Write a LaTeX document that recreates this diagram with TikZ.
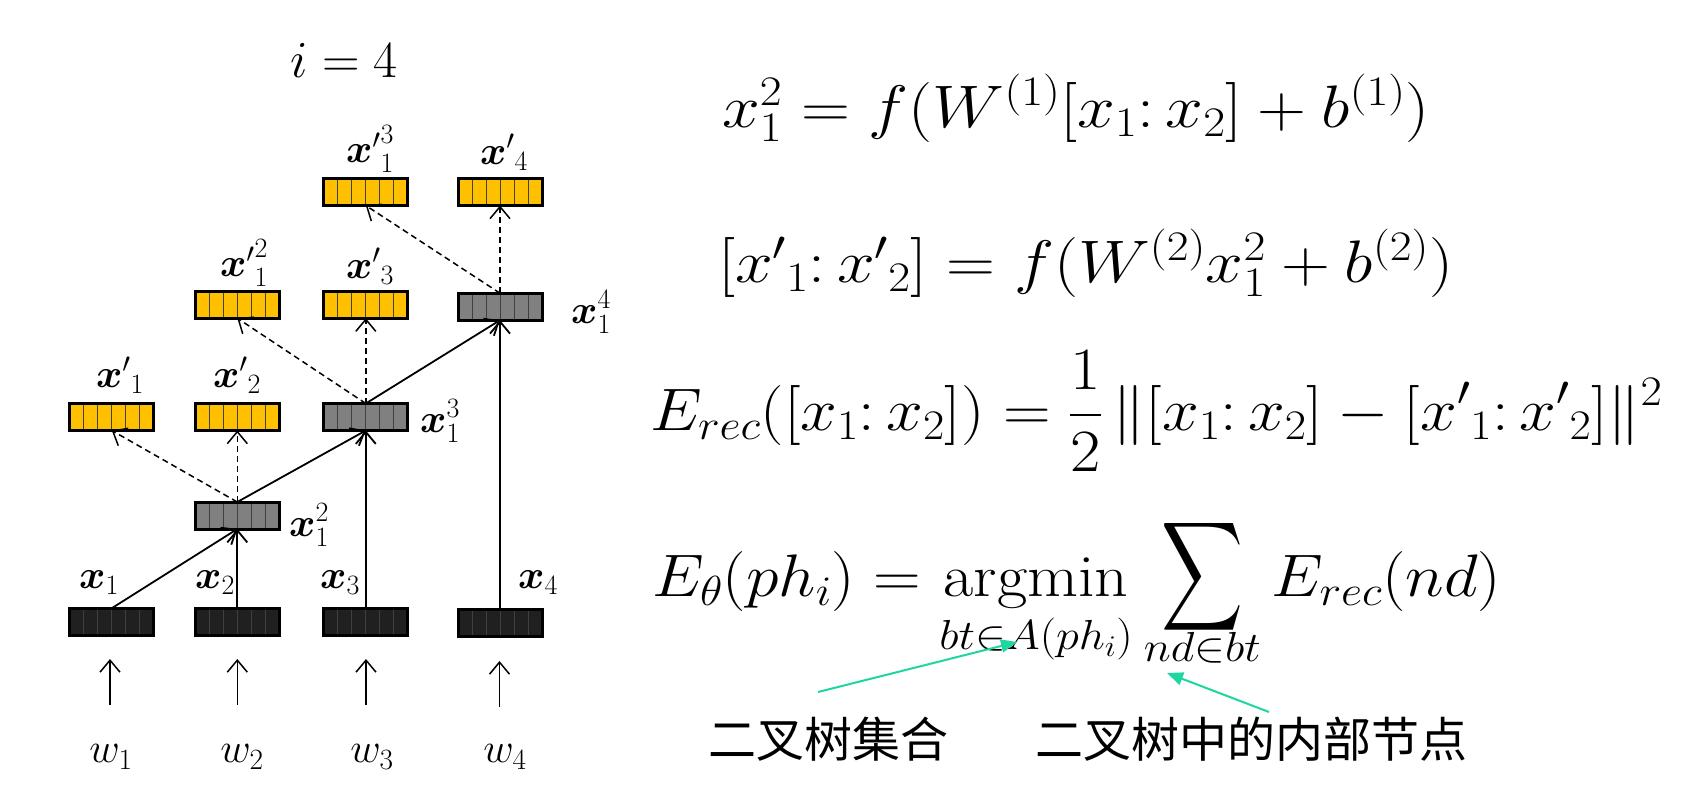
\RequirePackage{fix-cm}
\documentclass[tikz,border=0pt]{standalone}
\usepackage{amsmath}
\usepackage{graphicx}
\DeclareFontShape{OMX}{cmex}{m}{n}{<-> cmex10}{}
\usepackage{fontspec}
\newfontfamily\cjk{Noto Sans CJK SC}
\usetikzlibrary{arrows.meta,calc}
\definecolor{boxyellow}{RGB}{255,192,0}
\definecolor{boxgray}{RGB}{128,128,128}
\definecolor{boxblack}{RGB}{32,32,32}
\definecolor{arrowgreen}{RGB}{30,215,160}
\tikzset{
  vecbox/.style={draw=black, line width=3pt, minimum width=84pt, minimum height=27pt, inner sep=0pt, outer sep=0pt},
  cellline/.style={line width=0.8pt, draw=black!75},
  solidarrow/.style={line width=1.8pt, -{Straight Barb[length=12pt,width=20pt]}},
  dasharrow/.style={line width=1.5pt, dash pattern=on 6pt off 4pt, -{Straight Barb[length=12pt,width=20pt]}},
  inarrow/.style={line width=1.5pt, -{Straight Barb[length=12pt,width=20pt]}},
  lbl/.style={font=\fontsize{40}{48}\selectfont, inner sep=0pt},
  wlbl/.style={font=\fontsize{42}{50}\selectfont, inner sep=0pt},
  eq/.style={font=\fontsize{60}{72}\selectfont, inner sep=0pt, anchor=base west},
  greenarrow/.style={draw=arrowgreen, line width=2pt, -{Triangle[length=16pt,width=13pt]}},
  cn/.style={font=\cjk\fontsize{48}{56}\selectfont, inner sep=0pt},
}
\newcommand\cellbox[4]{%
  \node[vecbox, fill=#4] (#1) at (#2,#3) {};
  \foreach \k in {1,...,5}{\draw[cellline] ($(#1.north west)+(\k*14,0)$) -- ($(#1.south west)+(\k*14,0)$);}
  \draw[line width=3pt] (#1.north west) rectangle (#1.south east);
}
\newcommand\bigsum{\mathop{\vcenter{\hbox{\scalebox{0.86}[1.27]{$\displaystyle\sum$}}\kern8pt}}\limits}
\begin{document}
\begin{tikzpicture}[x=1pt,y=-1pt]
\useasboundingbox[fill=white] (0,0) rectangle (1701,806);

% boxes
\cellbox{b1}{111.8}{621.7}{boxblack}
\cellbox{b2}{237.3}{621.7}{boxblack}
\cellbox{b3}{365.8}{621.7}{boxblack}
\cellbox{b4}{500}{623}{boxblack}
\cellbox{h2}{237.3}{515.5}{boxgray}
\cellbox{r1}{111.8}{417}{boxyellow}
\cellbox{r2}{237.3}{417}{boxyellow}
\cellbox{h3}{365.8}{417}{boxgray}
\cellbox{r12}{237.3}{304.7}{boxyellow}
\cellbox{r3}{365.8}{304.7}{boxyellow}
\cellbox{h4}{500}{306.7}{boxgray}
\cellbox{r13}{365.8}{192}{boxyellow}
\cellbox{r4}{500}{192}{boxyellow}

% connectors
\draw[solidarrow] (b1.north) -- (h2.south);
\draw[solidarrow] (b2.north) -- (h2.south);
\draw[dasharrow] (h2.north) -- (r1.south);
\draw[dasharrow] (h2.north) -- (r2.south);
\draw[solidarrow] (h2.north) -- (h3.south);
\draw[solidarrow] (b3.north) -- (h3.south);
\draw[dasharrow] (h3.north) -- (r12.south);
\draw[dasharrow] (h3.north) -- (r3.south);
\draw[solidarrow] (h3.north) -- (h4.south);
\draw[solidarrow] (b4.north) -- (h4.south);
\draw[dasharrow] (h4.north) -- (r13.south);
\draw[dasharrow] (h4.north) -- (r4.south);

% input arrows
\coordinate (a1s) at (110,705); \coordinate (a1e) at (110,659);
\coordinate (a2s) at (237.3,705); \coordinate (a2e) at (237.3,659);
\coordinate (a3s) at (366,705); \coordinate (a3e) at (366,659);
\coordinate (a4s) at (499.5,707); \coordinate (a4e) at (499.5,661);
\draw[inarrow] (a1s) -- (a1e);
\draw[inarrow] (a2s) -- (a2e);
\draw[inarrow] (a3s) -- (a3e);
\draw[inarrow] (a4s) -- (a4e);

% word labels
\node[wlbl] (w1) at (111,757) {$w_1$};
\node[wlbl] (w2) at (242,757) {$w_2$};
\node[wlbl] (w3) at (372,757) {$w_3$};
\node[wlbl] (w4) at (505,757) {$w_4$};

% vector labels
\node[lbl] (lx1) at (99,583) {${\boldsymbol{x}}_1$};
\node[lbl] (lx2) at (215,583) {${\boldsymbol{x}}_2$};
\node[lbl] (lx3) at (340,583) {${\boldsymbol{x}}_3$};
\node[lbl] (lx4) at (538,583) {${\boldsymbol{x}}_4$};
\node[lbl] (lh2) at (309,525) {${\boldsymbol{x}}_1^2$};
\node[lbl] (lr1) at (120,375) {${\boldsymbol{x}'}_1$};
\node[lbl] (lr2) at (237,375) {${\boldsymbol{x}'}_2$};
\node[lbl] (lh3) at (440,421) {${\boldsymbol{x}}_1^3$};
\node[lbl] (lr12) at (244,263) {${\boldsymbol{x}'}^2_1$};
\node[lbl] (lr3) at (370,266) {${\boldsymbol{x}'}_3$};
\node[lbl] (lh4) at (591,312) {${\boldsymbol{x}}_1^4$};
\node[lbl] (lr13) at (370,149) {${\boldsymbol{x}'}^3_1$};
\node[lbl] (lr4) at (504,152) {${\boldsymbol{x}'}_4$};

\node[font=\fontsize{52}{60}\selectfont, inner sep=0pt, anchor=base west] (ieq) at (290,77) {$i = 4$};

% formulas
\node[eq] (f1) at (722,127) {\scalebox{1.13}[1]{$x_1^2 = f(W^{(1)}[x_1{:}\,x_2] + b^{(1)})$}};
\node[eq] (f2) at (718,282) {\scalebox{1.13}[1]{$[{x'}_1{:}\,{x'}_2] = f(W^{(2)}x_1^2 + b^{(2)})$}};
\node[eq] (f3) at (650,430) {\scalebox{1.1}[1]{$\displaystyle E_{rec}([x_1{:}\,x_2]) = \frac{1}{2}\,\|[x_1{:}\,x_2]-[{x'}_1{:}\,{x'}_2]\|^2$}};
\node[eq] (f4) at (652,596) {\scalebox{1.1}[1]{$\displaystyle E_\theta(ph_i) = \operatorname*{argmin}_{bt\in A(ph_i)} \bigsum_{\raisebox{20pt}[0pt][0pt]{$\scriptstyle nd\in bt$}} E_{rec}(nd)$}};

% chinese labels
\node[cn] (c1) at (828,739) {二叉树集合};
\node[cn] (c2) at (1251,739) {二叉树中的内部节点};

\coordinate (g1s) at (818,692); \coordinate (g1e) at (1017,642);
\coordinate (g2s) at (1269,712); \coordinate (g2e) at (1167,673);
\draw[greenarrow] (g1s) -- (g1e);
\draw[greenarrow] (g2s) -- (g2e);
\end{tikzpicture}
\end{document}
